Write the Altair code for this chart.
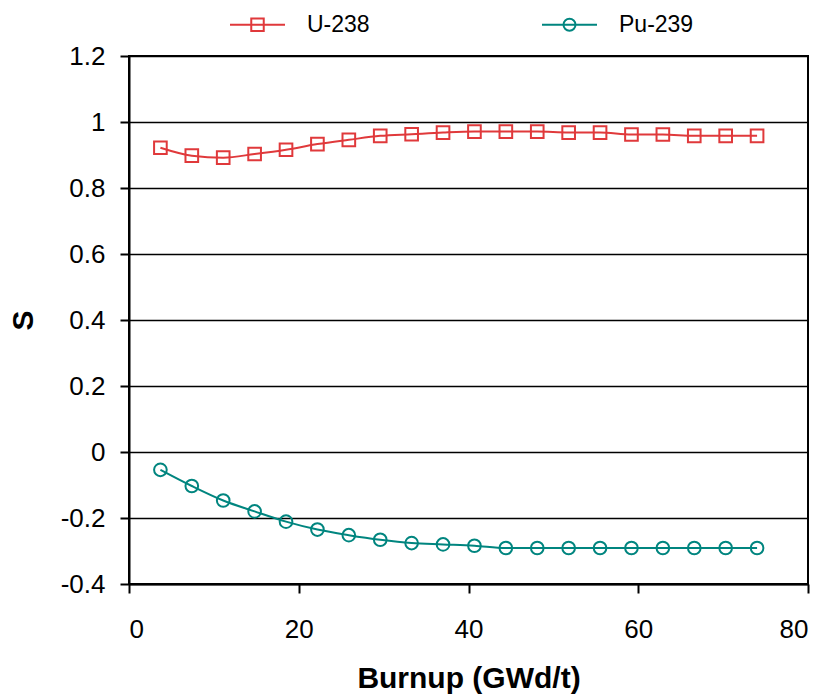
import altair as alt
import pandas as pd

# ---- data ----
burnup = [3.7, 7.4, 11.1, 14.8, 18.5, 22.2, 25.9, 29.6, 33.3, 37.0,
          40.7, 44.4, 48.1, 51.8, 55.5, 59.2, 62.9, 66.6, 70.3, 74.0]
u238 = [0.922, 0.898, 0.892, 0.903, 0.916, 0.933, 0.946, 0.958, 0.963, 0.968,
        0.971, 0.971, 0.971, 0.968, 0.968, 0.962, 0.962, 0.958, 0.958, 0.958]
pu239 = [-0.054, -0.103, -0.147, -0.180, -0.211, -0.235, -0.252, -0.266, -0.276, -0.280,
         -0.284, -0.291, -0.291, -0.291, -0.291, -0.291, -0.291, -0.291, -0.291, -0.291]
series_names = ["U-238", "Pu-239"]
series_colors = ["#E0393B", "#00857F"]
marker_shapes = ["square", "circle"]
x_ticks = [0, 20, 40, 60, 80]
y_ticks = [-0.4, -0.2, 0, 0.2, 0.4, 0.6, 0.8, 1.0, 1.2]

rows = []
for x, u, p in zip(burnup, u238, pu239):
    rows.append({"burnup": x, "S": u, "nuclide": "U-238"})
    rows.append({"burnup": x, "S": p, "nuclide": "Pu-239"})
df = pd.DataFrame(rows)

FONT = "Liberation Sans"

# legend symbols: line stub with the marker on it
legend_shapes = [
    "M-1,0H1M-0.227,-0.227H0.227V0.227H-0.227Z",
    "M-1,0H1M0.218,0A0.218,0.218,0,1,1,-0.218,0A0.218,0.218,0,1,1,0.218,0Z",
]

x_enc = alt.X(
    "burnup:Q",
    scale=alt.Scale(domain=[0, 80], nice=False, zero=False),
    axis=alt.Axis(values=x_ticks, title="Burnup (GWd/t)", grid=False,
                  labelPadding=23, titlePadding=21),
)
y_enc = alt.Y(
    "S:Q",
    scale=alt.Scale(domain=[-0.4, 1.2], nice=False, zero=False),
    axis=alt.Axis(values=y_ticks, title="S", grid=True, gridColor="black",
                  gridWidth=1.6, labelPadding=15, titlePadding=22,
                  labelExpr="'' + round(datum.value*10)/10"),
)
color_plain = alt.Color(
    "nuclide:N",
    scale=alt.Scale(domain=series_names, range=series_colors),
    legend=None,
)

legend_def = alt.Legend(
    title=None, orient="none", legendX=100, legendY=-60,
    direction="horizontal", columns=2, columnPadding=168,
    symbolSize=3025, symbolStrokeWidth=2, symbolOpacity=1, labelOffset=21,
    labelFontSize=23, labelFont=FONT, labelColor="black",
    symbolFillColor="transparent", padding=0,
)

lines = alt.Chart(df).mark_line(interpolate="monotone", strokeWidth=2).encode(
    x=x_enc, y=y_enc, color=color_plain
)
points = alt.Chart(df).mark_point(filled=False, strokeWidth=2, size=160, opacity=1).encode(
    x=x_enc, y=y_enc, color=color_plain,
    shape=alt.Shape("nuclide:N", scale=alt.Scale(domain=series_names, range=marker_shapes), legend=None),
)
legend_layer = alt.Chart(df).mark_point(filled=False, strokeWidth=2, opacity=0).encode(
    x=x_enc, y=y_enc,
    color=alt.Color("nuclide:N", scale=alt.Scale(domain=series_names, range=series_colors), legend=legend_def),
    shape=alt.Shape("nuclide:N", scale=alt.Scale(domain=series_names, range=legend_shapes), legend=legend_def),
)

chart = (
    alt.layer(lines, points, legend_layer)
    .resolve_scale(color="independent", shape="independent")
    .properties(
        width=679, height=528,
        padding={"left": 129, "top": 56, "right": 20, "bottom": 112},
        autosize=alt.AutoSizeParams(type="none"),
        background="white",
    )
    .configure_view(stroke="black", strokeWidth=2)
    .configure_axis(
        domainColor="black", domainWidth=2, tickColor="black", tickWidth=2, tickSize=9,
        labelFont=FONT, labelFontSize=26, labelColor="black",
        titleFont=FONT, titleFontSize=30, titleFontWeight="bold", titleColor="black",
    )
)

chart.save("out.html", embed_options={"renderer": "svg", "actions": False})
